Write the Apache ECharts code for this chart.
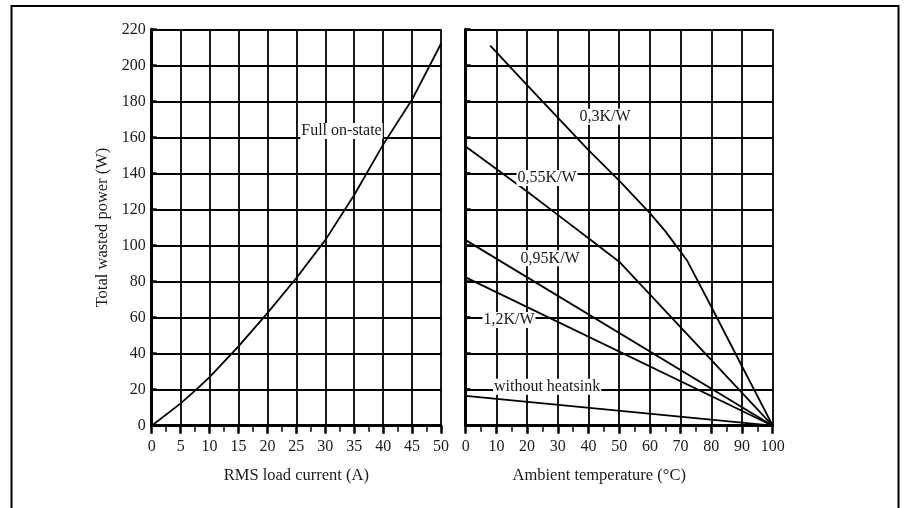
<!DOCTYPE html>
<html><head><meta charset="utf-8">
<script src="https://cdn.jsdelivr.net/npm/echarts@6/dist/echarts.min.js"></script>
<style>html,body{margin:0;padding:0;background:#fff}#c{width:904px;height:508px}</style>
</head><body><div id="c"></div>
<script>
// ---- data ----
const currentA = [0, 5, 7.5, 10, 15, 20, 25, 30, 35, 40, 45, 50];
const fullOnW  = [0, 12.4, 19.5, 27, 44, 62.5, 82, 103, 128, 156, 181, 212];

const temp03 = [8, 20, 30, 40, 50, 60, 65, 72, 80, 90, 100];
const w03    = [211, 189, 171, 153, 136, 118, 108, 92, 66, 33, 0];
const temp055 = [0, 20, 30, 40, 50, 100];
const w055    = [155, 130, 117, 104, 91, 0];
const temp095 = [0, 100];
const w095    = [103, 0];
const temp12  = [0, 100];
const w12     = [82.3, 0];
const tempNo  = [0, 100];
const wNo     = [16.5, 0];

const leftLabelNames = ['Full on-state'];
const leftLabelX = [32.8];
const leftLabelY = [163.6];
const rightLabelNames = ['0,3K/W', '0,55K/W', '0,95K/W', '1,2K/W', 'without heatsink'];
const rightLabelX = [45.4, 26.5, 27.5, 14.1, 26.5];
const rightLabelY = [171.5, 137.5, 92.9, 58.7, 21.6];

const yMin = 0, yMax = 220, yStep = 20;
const x1Min = 0, x1Max = 50, x1Step = 5;
const x2Min = 0, x2Max = 100, x2Step = 10;

// ---- build ----
const zip = (xs, ys) => xs.map((x, i) => [x, ys[i]]);
const FONT = 'Liberation Serif';
const txt = { fontFamily: FONT, fontSize: 16, color: '#1a1a1a' };
const nameTxt = { fontFamily: FONT, fontSize: 16.5, color: '#1a1a1a' };

function xAxis(gi, min, max, step, name, namePad) {
  return {
    type: 'value', gridIndex: gi, min, max, interval: step,
    name, nameLocation: 'middle', nameGap: 41,
    nameTextStyle: Object.assign({}, nameTxt, { padding: namePad }),
    axisLine: { show: true, onZero: false, lineStyle: { color: '#000', width: 3 } },
    axisTick: { show: true, length: 8, lineStyle: { color: '#000', width: 2.5 } },
    minorTick: { show: true, splitNumber: 2, length: 6, lineStyle: { color: '#000', width: 1.5 } },
    axisLabel: Object.assign({}, txt, { margin: 13 }),
    splitLine: { show: true, lineStyle: { color: '#000', width: 1.8 } }
  };
}
function yAxis(gi, showLabels) {
  return {
    type: 'value', gridIndex: gi, min: yMin, max: yMax, interval: yStep,
    name: showLabels ? 'Total wasted power (W)' : '',
    nameLocation: 'middle', nameGap: 41, nameRotate: 90,
    nameTextStyle: nameTxt,
    axisLine: { show: true, lineStyle: { color: '#000', width: 3 } },
    axisTick: { show: true, inside: true, length: 5, lineStyle: { color: '#000', width: 2.5 } },
    axisLabel: Object.assign({}, txt, { show: showLabels, margin: 6 }),
    splitLine: { show: true, lineStyle: { color: '#000', width: 1.8 } }
  };
}
const lineStyle = { color: '#000', width: 1.8 };
function curve(gi, xs, ys) {
  return {
    type: 'line', xAxisIndex: gi, yAxisIndex: gi, data: zip(xs, ys),
    showSymbol: false, symbol: 'none', lineStyle, z: 3, silent: true
  };
}
function labels(gi, names, xs, ys) {
  return {
    type: 'scatter', xAxisIndex: gi, yAxisIndex: gi, symbolSize: 0, z: 10, silent: true,
    itemStyle: { opacity: 1 },
    data: names.map((n, i) => ({ value: [xs[i], ys[i]], name: n })),
    label: Object.assign({}, txt, {
      show: true, position: 'inside', formatter: p => p.name,
      backgroundColor: '#fff', padding: [0, 1]
    })
  };
}

const chart = echarts.init(document.getElementById('c'), null, { renderer: 'canvas' });
chart.setOption({
  animation: false,
  backgroundColor: '#fff',
  grid: [
    { left: 151.7, top: 29.3, width: 289.3, height: 396.4, containLabel: false, outerBoundsMode: 'none' },
    { left: 465.7, top: 29.3, width: 307, height: 396.4, containLabel: false, outerBoundsMode: 'none' }
  ],
  xAxis: [
    xAxis(0, x1Min, x1Max, x1Step, 'RMS load current (A)', [0, 0, 0, 0]),
    xAxis(1, x2Min, x2Max, x2Step, 'Ambient temperature (°C)', [0, 40, 0, 0])
  ],
  yAxis: [yAxis(0, true), yAxis(1, false)],
  graphic: [{
    type: 'rect', shape: { x: 11.5, y: 6, width: 887, height: 520 },
    style: { fill: 'none', stroke: '#000', lineWidth: 2 }, silent: true, z: 100
  }],
  series: [
    curve(0, currentA, fullOnW),
    curve(1, temp03, w03),
    curve(1, temp055, w055),
    curve(1, temp095, w095),
    curve(1, temp12, w12),
    curve(1, tempNo, wNo),
    labels(0, leftLabelNames, leftLabelX, leftLabelY),
    labels(1, rightLabelNames, rightLabelX, rightLabelY)
  ]
});
</script></body></html>
